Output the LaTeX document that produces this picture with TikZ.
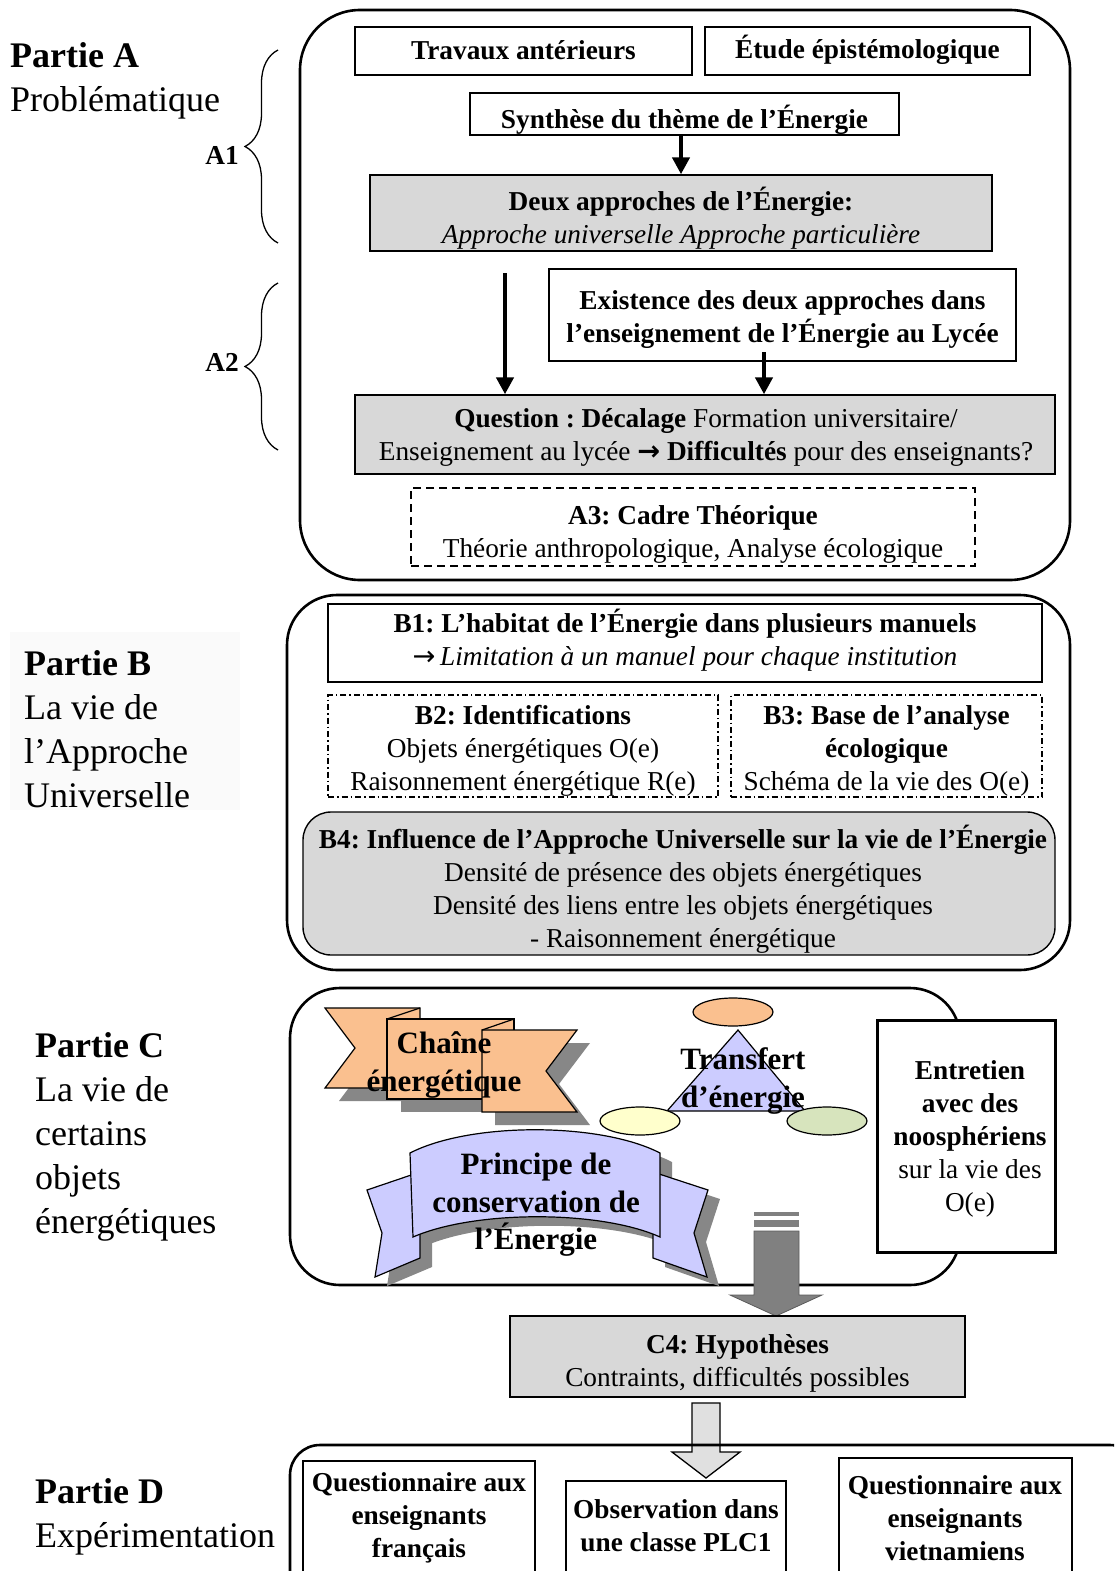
\documentclass[tikz,border=0pt]{standalone}
\usepackage{fontspec}
\setmainfont{Liberation Serif}
\newfontfamily\arrowfont{DejaVu Sans}
\usetikzlibrary{arrows.meta,decorations.pathreplacing,calc}
\frenchspacing
\newcommand\fsbox{\fontsize{27.3}{33}\selectfont}
\newcommand\fslab{\fontsize{36}{44}\selectfont}
\newcommand\fsbig{\fontsize{31}{37.5}\selectfont}
\definecolor{boxgray}{RGB}{216,216,216}
\definecolor{orangeC}{RGB}{250,192,143}
\definecolor{lav}{RGB}{204,204,255}
\definecolor{yel}{RGB}{255,255,204}
\definecolor{grn}{RGB}{215,228,189}
\definecolor{shad}{RGB}{135,135,135}
\definecolor{arrgray}{RGB}{128,128,128}
\definecolor{lightarr}{RGB}{224,224,224}
\definecolor{faint}{RGB}{250,250,250}
\begin{document}
\begin{tikzpicture}[x=1pt,y=-1pt,
  every node/.style={font=\fsbox, align=center, inner sep=0pt},
  box/.style={draw, line width=1.4pt, fill=white},
  graybox/.style={draw, line width=1.4pt, fill=boxgray},
  outer/.style={draw, line width=2.6pt},
  blk/.style={line width=4.5pt, -{Triangle[length=17pt,width=17pt]}},
  brc/.style={line width=1.3pt, decorate, decoration={brace, amplitude=33pt}},
  shp/.style={draw, line width=1.2pt},
  lab/.style={font=\fslab, align=left, anchor=west},
  big/.style={font=\fsbig\bfseries}]
\useasboundingbox (0,0) rectangle (1114,1571);
\fill[white] (0,0) rectangle (1114,1571);
\clip (0,0) rectangle (1114,1571);

% ---------- left labels ----------
\fill[faint] (10,632) rectangle (240,810);
\node[lab] (labA) at (10,81) {\textbf{Partie A}\\Problématique};
\node[lab] (labB) at (24,729) {\textbf{Partie B}\\La vie de\\l’Approche\\Universelle};
\node[lab] (labC) at (35,1137) {\textbf{Partie C}\\La vie de\\certains\\objets\\énergétiques};
\node[lab] (labD) at (35,1517) {\textbf{Partie D}\\Expérimentation};

% ---------- braces ----------
\coordinate (b1s) at (278,243);
\coordinate (b1e) at (278,50);
\coordinate (b2s) at (278,450);
\coordinate (b2e) at (278,283);
\draw[brc] (b1s) -- (b1e);
\draw[brc] (b2s) -- (b2e);
\node[font=\fsbox\bfseries] (a1) at (222,155) {A1};
\node[font=\fsbox\bfseries] (a2) at (222,362) {A2};

% ---------- Partie A ----------
\draw[outer, rounded corners=60pt] (300,10) rectangle (1070,580);
\node[box, minimum width=337pt, minimum height=48pt] (trav) at (523.5,51) {};
\node (travt) at (523.5,50) {\textbf{Travaux antérieurs}};
\node[box, minimum width=325pt, minimum height=48pt] (etude) at (867.5,51) {};
\node (etudet) at (867.5,50) {\textbf{Étude épistémologique}};
\node[box, minimum width=429pt, minimum height=42pt] (synth) at (684.5,114) {};
\node (syntht) at (684.5,120) {\textbf{Synthèse du thème de l’Énergie}};
\node[graybox, minimum width=622pt, minimum height=76pt] (deux) at (681,213) {};
\node (deuxt) at (681,218) {\textbf{Deux approches de l’Énergie:}\\\textit{Approche universelle Approche particulière}};
\node[box, minimum width=467pt, minimum height=92pt] (exist) at (782.5,315) {};
\node (existt) at (782.5,320) {\textbf{Existence des deux approches dans}\\\textbf{l’enseignement de l’Énergie au Lycée}};
\node[graybox, minimum width=700pt, minimum height=79pt] (quest) at (705,434.5) {};
\node (questt) at (706,437.5) {\textbf{Question : Décalage} Formation universitaire/\\Enseignement au lycée {\arrowfont\bfseries →} \textbf{Difficultés} pour des enseignants?};
\node[box, dashed, dash pattern=on 8pt off 5pt, minimum width=564pt, minimum height=78pt] (a3) at (693,527) {};
\node (a3t) at (693,534) {\textbf{A3: Cadre Théorique}\\Théorie anthropologique, Analyse écologique};
\draw[blk] (synth.south -| deux.north) -- (deux.north);
\coordinate (ar2) at (505,273);
\draw[blk] (ar2) -- (ar2 |- quest.north);
\coordinate (ar3) at (764,352);
\draw[blk] (ar3) -- (ar3 |- quest.north);

% ---------- Partie B ----------
\draw[outer, rounded corners=50pt] (287,595) rectangle (1070,970);
\node[box, minimum width=714pt, minimum height=78pt] (b1) at (685,643) {};
\node (b1t) at (685,640) {\textbf{B1: L’habitat de l’Énergie dans plusieurs manuels}\\{\arrowfont →}\,\textit{Limitation à un manuel pour chaque institution}};
\node[box, dash pattern=on 6pt off 3pt on 1.5pt off 3pt, minimum width=390pt, minimum height=102pt] (b2) at (523,746) {};
\node (b2t) at (523,751) {\textbf{B2: Identifications}\\Objets énergétiques O(e)\\Raisonnement énergétique R(e)};
\node[box, dash pattern=on 6pt off 3pt on 1.5pt off 3pt, minimum width=311pt, minimum height=102pt] (b3) at (886.5,746) {};
\node (b3t) at (886.5,751) {\textbf{B3: Base de l’analyse}\\\textbf{écologique}\\Schéma de la vie des O(e)};
\node[graybox, rounded corners=28pt, minimum width=752pt, minimum height=143pt] (b4) at (679,883.5) {};
\node (b4t) at (683,889.5) {\textbf{B4: Influence de l’Approche Universelle sur la vie de l’Énergie}\\Densité de présence des objets énergétiques\\Densité des liens entre les objets énergétiques\\- Raisonnement énergétique};

% ---------- Partie C ----------
\draw[outer, rounded corners=50pt] (290,988) rectangle (960,1285);
% chaine energetique
\fill[shad, shift={(14,13)}] (325,1008) -- (420,1008) -- (420,1088) -- (325,1088) -- (355,1048) -- cycle;
\filldraw[shp, fill=orangeC] (325,1008) -- (420,1008) -- (420,1088) -- (325,1088) -- (355,1048) -- cycle;
\fill[shad, shift={(14,13)}] (387,1019) rectangle (514,1099);
\filldraw[shp, fill=orangeC] (387,1019) rectangle (514,1099);
\draw[line width=1.2pt] (387,1019) -- (420,1008);
\fill[shad, shift={(13,13)}] (482,1030) -- (577,1030) -- (546,1071) -- (577,1112) -- (482,1112) -- cycle;
\filldraw[shp, fill=orangeC] (482,1030) -- (577,1030) -- (546,1071) -- (577,1112) -- (482,1112) -- cycle;
\draw[line width=1.2pt] (482,1030) -- (514,1019);
\node[big] (chaine) at (444,1065) {Chaîne\\énergétique};
% transfert
\filldraw[shp, fill=lav] (738,1030) -- (805,1111) -- (667,1111) -- cycle;
\filldraw[shp, fill=orangeC] (733,1012) ellipse [x radius=40pt, y radius=14pt];
\filldraw[shp, fill=yel] (640,1121) ellipse [x radius=40pt, y radius=14pt];
\filldraw[shp, fill=grn] (827,1121) ellipse [x radius=40pt, y radius=14pt];
\node[big] (transf) at (743,1081) {Transfert\\d’énergie};
% ribbon
\begin{scope}[shift={(12,9)}]
\fill[shad] (420,1172) -- (367,1190) -- (382,1233) -- (375,1277) -- (420,1258) -- cycle;
\fill[shad] (653,1172) -- (708,1190) -- (694,1233) -- (707,1277) -- (653,1258) -- cycle;
\fill[shad] (410,1153) .. controls (470,1122) and (600,1122) .. (660,1153) -- (660,1237) .. controls (600,1210) and (475,1210) .. (413,1237) -- cycle;
\end{scope}
\filldraw[shp, fill=lav] (420,1172) -- (367,1190) -- (382,1233) -- (375,1277) -- (420,1258) -- cycle;
\filldraw[shp, fill=lav] (653,1172) -- (708,1190) -- (694,1233) -- (707,1277) -- (653,1258) -- cycle;
\filldraw[shp, fill=lav] (410,1153) .. controls (470,1122) and (600,1122) .. (660,1153) -- (660,1237) .. controls (600,1210) and (475,1210) .. (413,1237) -- cycle;
\node[big] (princ) at (536,1205) {Principe de\\conservation de\\l’Énergie};
% entretien
\node[box, line width=3pt, minimum width=178pt, minimum height=232pt] (entr) at (966,1136) {};
\node (entrt) at (970,1139) {\textbf{Entretien}\\\textbf{avec des}\\\textbf{noosphériens}\\sur la vie des\\O(e)};
% striped arrow
\fill[arrgray] (754,1212) rectangle (799,1216);
\fill[arrgray] (754,1220) rectangle (799,1227);
\filldraw[fill=arrgray, draw=arrgray!70!black, line width=0.8pt] (754,1231) -- (799,1231) -- (799,1295) -- (822,1295) -- (776,1316) -- (730,1295) -- (754,1295) -- cycle;
\node[graybox, line width=2.6pt, minimum width=455pt, minimum height=81pt] (c4) at (737.5,1356.5) {};
\node (c4t) at (737.5,1363) {\textbf{C4: Hypothèses}\\Contraints, difficultés possibles};

% ---------- Partie D ----------
\filldraw[fill=lightarr, line width=1.3pt] (692,1403) -- (720,1403) -- (720,1452) -- (740,1452) -- (706,1478) -- (672,1452) -- (692,1452) -- cycle;
\draw[outer, rounded corners=30pt] (290,1445) rectangle (1140,1620);
\draw[line width=1.4pt] (303,1461) rectangle (535,1600);
\draw[line width=1.4pt] (566,1481) rectangle (786,1600);
\draw[line width=1.4pt] (839,1458) rectangle (1072,1600);
\node (d1) at (419,1518) {\textbf{Questionnaire aux}\\\textbf{enseignants}\\\textbf{français}};
\node (d2) at (676,1526) {\textbf{Observation dans}\\\textbf{une classe PLC1}};
\node (d3) at (955,1518) {\textbf{Questionnaire aux}\\\textbf{enseignants}\\\textbf{vietnamiens}};
\end{tikzpicture}
\end{document}
